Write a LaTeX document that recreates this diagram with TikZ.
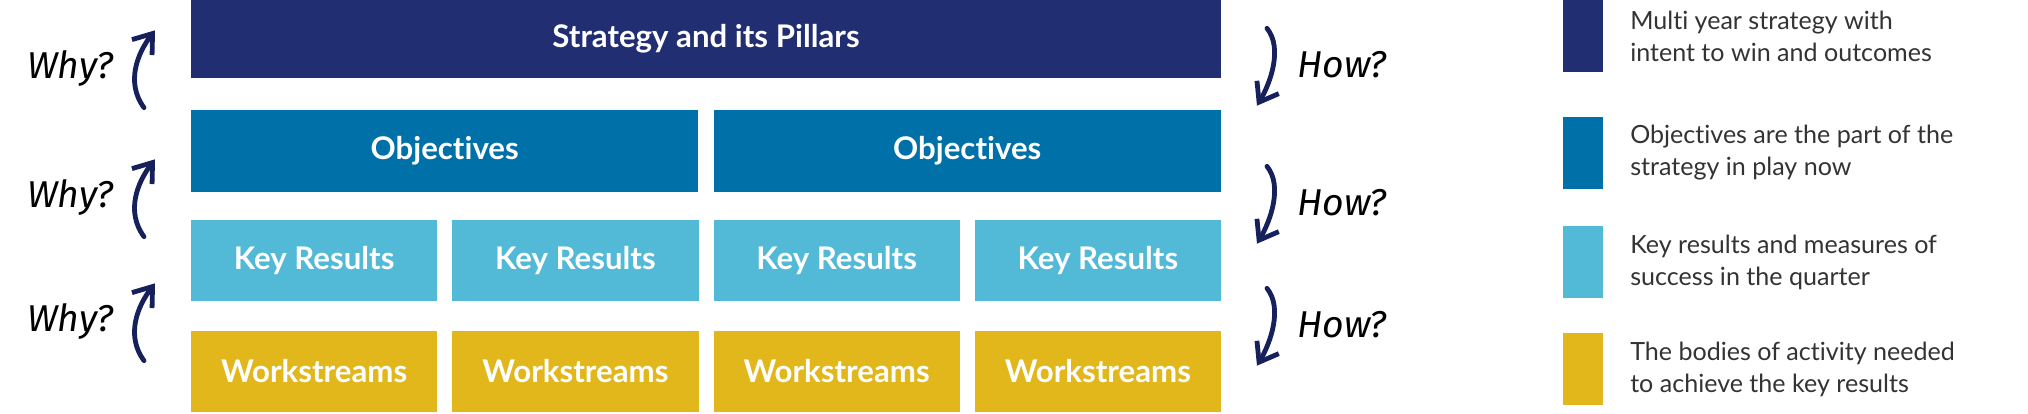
\documentclass[tikz,border=0pt]{standalone}
\usepackage{fontspec}
\setmainfont{Lato}[Ligatures=NoCommon]
\newfontfamily\handfont{Fira Sans}
\usetikzlibrary{positioning,arrows.meta}
\definecolor{stratnavy}{HTML}{212E72}
\definecolor{objblue}{HTML}{0070A9}
\definecolor{krcyan}{HTML}{52B9D6}
\definecolor{wsgold}{HTML}{E2B71B}
\definecolor{arrownavy}{HTML}{16205A}
\definecolor{legtext}{HTML}{333333}

\begin{document}
\begin{tikzpicture}[
  tier/.style={inner sep=0pt, outer sep=0pt, text=white, align=center,
               font=\fontsize{23.4}{27}\selectfont\bfseries},
  stratbox/.style={tier, fill=stratnavy, minimum width=772.5pt, minimum height=58.5pt},
  objbox/.style={tier, fill=objblue, minimum width=380.6pt, minimum height=61.5pt},
  krbox/.style={tier, fill=krcyan, minimum width=184.7pt, minimum height=60.75pt},
  wsbox/.style={tier, fill=wsgold, minimum width=184.7pt, minimum height=60.75pt},
  swatch/.style={inner sep=0pt, outer sep=0pt, minimum width=30pt, minimum height=54pt},
  legtxt/.style={inner sep=0pt, align=left, text=legtext, anchor=west,
                 font=\fontsize{18.8}{24}\selectfont},
  ask/.style={inner sep=0pt, text=black, font=\handfont\itshape\fontsize{28}{30}\selectfont},
  bendarr/.style={-{Straight Barb[length=13pt, width=19pt]}, line width=3.6pt,
                  draw=arrownavy, line cap=round},
]
\useasboundingbox (0,0) rectangle (1521pt,310.5pt);

% --- tiers ---------------------------------------------------------------
\node[stratbox, anchor=north west] (strat) at (143.25pt,310.5pt) {Strategy and its Pillars};
\node[objbox, below=24pt of strat.south west, anchor=north west] (obj1) {Objectives};
\node[objbox, below=24pt of strat.south east, anchor=north east] (obj2) {Objectives};

\node[krbox, below=21pt of obj1.south west, anchor=north west] (kr1) {Key Results};
\node[krbox, right=11.25pt of kr1] (kr2) {Key Results};
\node[krbox, right=11.25pt of kr2] (kr3) {Key Results};
\node[krbox, right=11.25pt of kr3] (kr4) {Key Results};

\node[wsbox, below=22.5pt of kr1] (ws1) {Workstreams};
\node[wsbox, below=22.5pt of kr2] (ws2) {Workstreams};
\node[wsbox, below=22.5pt of kr3] (ws3) {Workstreams};
\node[wsbox, below=22.5pt of kr4] (ws4) {Workstreams};

% --- why / how arrows ----------------------------------------------------
\newcommand{\whyhow}[3]{%
  \coordinate (wy#1) at (0,#2);
  \node[ask] (why#1) at ([xshift=52.5pt]wy#1) {Why?};
  \coordinate (why#1lo) at ([xshift=108pt, yshift=-29pt]wy#1);
  \coordinate (why#1hi) at ([xshift=116.25pt, yshift=29pt]wy#1);
  \draw[bendarr] (why#1lo) .. controls ([xshift=-14pt, yshift=19pt]why#1lo)
    and ([xshift=-13pt, yshift=-17pt]why#1hi) .. (why#1hi);
  \coordinate (hw#1) at (0,#3);
  \node[ask, anchor=west] (how#1) at ([xshift=972.75pt, yshift=1.5pt]hw#1) {How?};
  \coordinate (how#1hi) at ([xshift=950.25pt, yshift=29pt]hw#1);
  \coordinate (how#1lo) at ([xshift=942.75pt, yshift=-29pt]hw#1);
  \draw[bendarr] (how#1hi) .. controls ([xshift=12pt, yshift=-15pt]how#1hi)
    and ([xshift=10pt, yshift=17pt]how#1lo) .. (how#1lo);
}
\whyhow{a}{258.75pt}{260.25pt}
\whyhow{b}{162pt}{156.75pt}
\whyhow{c}{69pt}{65.25pt}

% --- legend --------------------------------------------------------------
\node[swatch, fill=stratnavy, anchor=north west] (sw1) at (1172.25pt,310.5pt) {};
\node[swatch, fill=objblue, below=33.75pt of sw1] (sw2) {};
\node[swatch, fill=krcyan, below=27.75pt of sw2] (sw3) {};
\node[swatch, fill=wsgold, below=26.25pt of sw3] (sw4) {};

\node[legtxt, right=20.25pt of sw1] (lg1) {Multi year strategy with\\intent to win and outcomes};
\node[legtxt, right=20.25pt of sw2] (lg2) {Objectives are the part of the\\strategy in play now};
\node[legtxt, right=20.25pt of sw3] (lg3) {Key results and measures of\\success in the quarter};
\node[legtxt, right=20.25pt of sw4] (lg4) {The bodies of activity needed\\to achieve the key results};

\end{tikzpicture}
\end{document}
